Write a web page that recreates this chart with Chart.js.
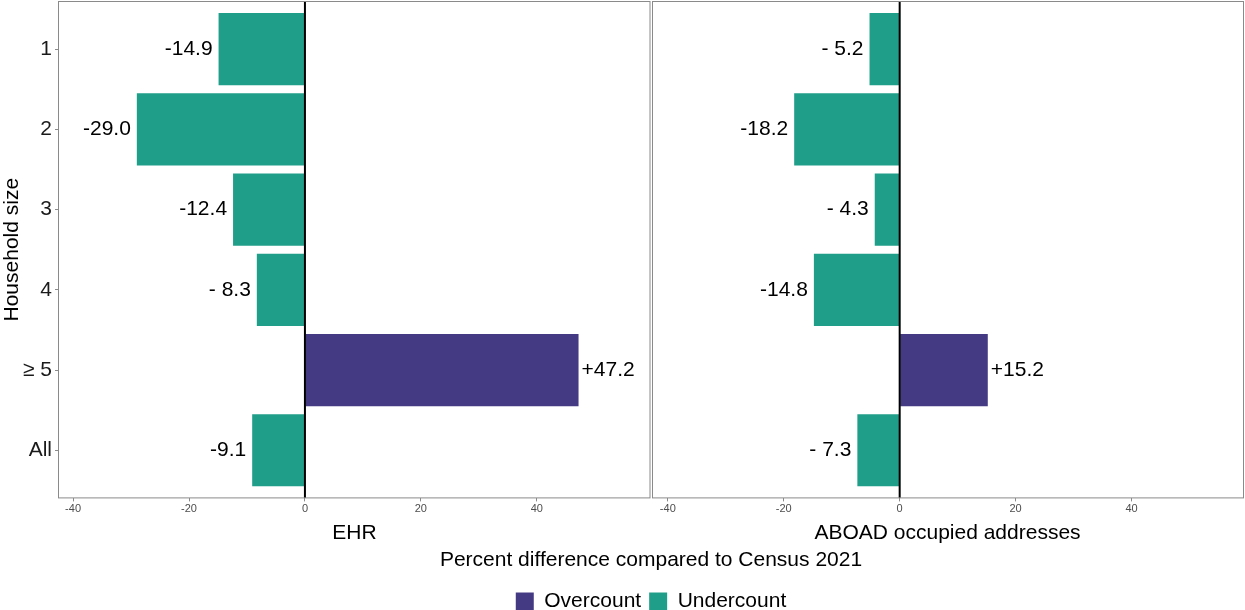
<!DOCTYPE html>
<html><head><meta charset="utf-8">
<script src="https://cdn.jsdelivr.net/npm/chart.js@4.4.1/dist/chart.umd.min.js"></script>
<style>html,body{margin:0;padding:0;background:#fff;overflow:hidden}#wrap{position:relative;width:1245px;height:610px}</style>
</head><body><div id="wrap"><canvas id="c" width="1245" height="610"></canvas></div>
<script>
const categories = ['1', '2', '3', '4', '≥ 5', 'All'];
const ehrValues = [-14.9, -29.0, -12.4, -8.3, 47.2, -9.1];
const aboadValues = [-5.2, -18.2, -4.3, -14.8, 15.2, -7.3];
const ehrLabels = ['-14.9', '-29.0', '-12.4', '- 8.3', '+47.2', '-9.1'];
const aboadLabels = ['- 5.2', '-18.2', '- 4.3', '-14.8', '+15.2', '- 7.3'];
const xTicks = [-40, -20, 0, 20, 40];
const panelTitles = ['EHR', 'ABOAD occupied addresses'];
const seriesNames = ['Overcount', 'Undercount'];
const axisTitleY = 'Household size';
const axisTitleX = 'Percent difference compared to Census 2021';

const OVER = '#443A83', UNDER = '#1F9E89', BORDER = '#8a8a8a';
const BIG = 21;
Chart.defaults.font.family = "'Liberation Sans', Arial, sans-serif";

function makeDs(name, values, texts, axis, positive, color) {
  return {
    label: name, xAxisID: axis, yAxisID: 'y',
    backgroundColor: color, borderWidth: 0,
    grouped: false, barPercentage: 0.9, categoryPercentage: 1,
    labelTexts: texts,
    data: values.map((v, i) => ({x: v, y: i + 1})).filter(p => positive ? p.x > 0 : p.x <= 0)
  };
}

const datasets = [
  makeDs(seriesNames[0], ehrValues, ehrLabels, 'x1', true, OVER),
  makeDs(seriesNames[1], ehrValues, ehrLabels, 'x1', false, UNDER),
  makeDs(seriesNames[0], aboadValues, aboadLabels, 'x2', true, OVER),
  makeDs(seriesNames[1], aboadValues, aboadLabels, 'x2', false, UNDER)
];

function xScale(title, min, max) {
  return {
    type: 'linear', position: 'bottom', stack: 'panels', stackWeight: 1,
    min: min, max: max, offset: false,
    afterBuildTicks: s => { s.ticks = xTicks.map(v => ({value: v})); },
    ticks: {font: {size: 11}, color: '#4d4d4d', padding: 1, maxRotation: 0, autoSkip: false},
    grid: {drawOnChartArea: false, drawTicks: true, tickLength: 3, tickColor: BORDER, tickWidth: 1, offset: false},
    border: {display: false},
    title: {display: true, text: title, font: {size: BIG}, color: '#000', padding: {top: 4, bottom: 0}}
  };
}

const panelPlugin = {
  id: 'panels',
  beforeDatasetsDraw(chart) {
    const ctx = chart.ctx, a = chart.chartArea;
    const x1 = chart.scales.x1, x2 = chart.scales.x2;
    ctx.save();
    ctx.strokeStyle = BORDER; ctx.lineWidth = 1;
    ctx.strokeRect(a.left + 0.5, a.top + 0.5, x1.right - 1.5 - a.left, a.bottom - a.top - 1);
    ctx.strokeRect(x2.left + 1.5, a.top + 0.5, a.right - 0.5 - x2.left - 1.5, a.bottom - a.top - 1);
    ctx.restore();
  },
  afterDatasetsDraw(chart) {
    const ctx = chart.ctx, a = chart.chartArea;
    ctx.save();
    ['x1', 'x2'].forEach(id => {
      const px = chart.scales[id].getPixelForValue(0);
      ctx.strokeStyle = '#000'; ctx.lineWidth = 2;
      ctx.beginPath(); ctx.moveTo(px, a.top + 1); ctx.lineTo(px, a.bottom - 1); ctx.stroke();
    });
    ctx.font = BIG + "px 'Liberation Sans', Arial, sans-serif";
    ctx.fillStyle = '#000'; ctx.textBaseline = 'middle';
    chart.data.datasets.forEach((ds, d) => {
      const meta = chart.getDatasetMeta(d);
      meta.data.forEach((el, j) => {
        const p = ds.data[j];
        const txt = ds.labelTexts[p.y - 1];
        if (p.x > 0) { ctx.textAlign = 'left'; ctx.fillText(txt, el.x + 3, el.y); }
        else { ctx.textAlign = 'right'; ctx.fillText(txt, el.x - 6, el.y); }
      });
    });
    ctx.restore();
  }
};

new Chart(document.getElementById('c'), {
  type: 'bar',
  data: {datasets},
  options: {
    indexAxis: 'y', responsive: false, animation: false,
    layout: {padding: {top: 1, right: 1, left: 0, bottom: -12}},
    scales: {
      y: {
        type: 'linear', reverse: true, min: 0.4, max: 6.6, position: 'left', offset: false,
        afterBuildTicks: s => { s.ticks = categories.map((c, i) => ({value: i + 1})); },
        afterFit: s => { s.width = 58; s.paddingTop = 0; s.paddingBottom = 0; },
        ticks: {font: {size: BIG}, color: '#1a1a1a', padding: 3, callback: v => categories[v - 1]},
        grid: {drawOnChartArea: false, drawTicks: true, tickLength: 3, tickColor: BORDER, offset: false},
        border: {display: false},
        title: {display: true, text: axisTitleY, font: {size: BIG}, color: '#000', padding: 0}
      },
      x1: xScale(panelTitles[0], -42.6, 59.7),
      x2: xScale(panelTitles[1], -42.9, 59.4)
    },
    plugins: {
      title: {display: true, position: 'bottom', text: axisTitleX, fullSize: false, weight: 500,
        font: {size: BIG, weight: 'normal'}, color: '#000', padding: {top: 2, bottom: 10}},
      legend: {position: 'bottom', fullSize: false, weight: 1000,
        labels: {boxWidth: 18, boxHeight: 18, padding: 8, color: '#000', font: {size: BIG},
          filter: item => item.datasetIndex < 2}},
      tooltip: {enabled: false}
    }
  },
  plugins: [panelPlugin]
});
</script></body></html>
